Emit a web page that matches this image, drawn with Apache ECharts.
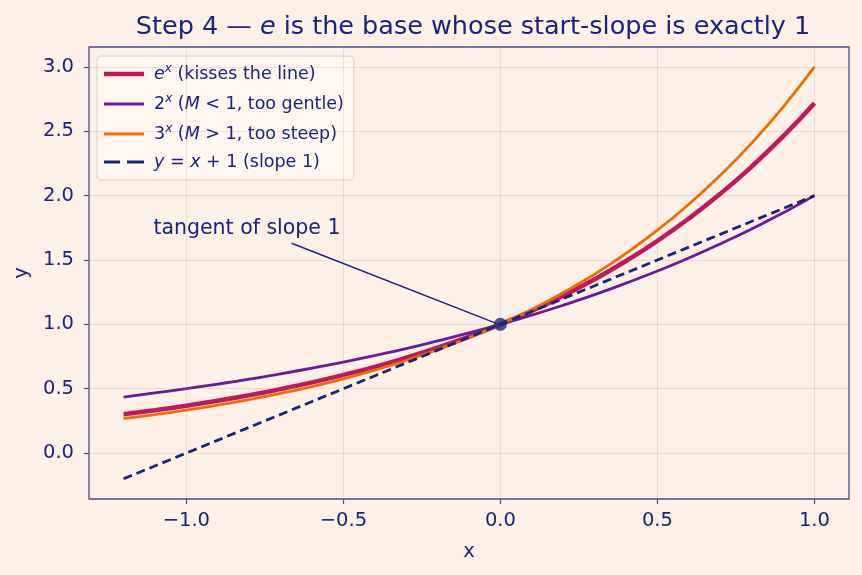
<!DOCTYPE html>
<html>
<head>
<meta charset="utf-8">
<script src="https://cdn.jsdelivr.net/npm/echarts@6/dist/echarts.min.js"></script>
<style>
  html, body { margin: 0; padding: 0; background: #fdf1e7; }
  #chart { width: 862px; height: 575px; }
</style>
</head>
<body>
<div id="chart"></div>
<script>
// x samples and curve values
const xs = [-1.2, -1.1, -1.0, -0.9, -0.8, -0.7, -0.6, -0.5, -0.4, -0.3, -0.2, -0.1,
  0, 0.1, 0.2, 0.3, 0.4, 0.5, 0.6, 0.7, 0.8, 0.9, 1.0]
const expVals = [0.301, 0.333, 0.368, 0.407, 0.449, 0.497, 0.549, 0.607, 0.670, 0.741, 0.819, 0.905,
  1.0, 1.105, 1.221, 1.350, 1.492, 1.649, 1.822, 2.014, 2.226, 2.460, 2.718]
const twoVals = [0.435, 0.467, 0.5, 0.536, 0.574, 0.616, 0.660, 0.707, 0.758, 0.812, 0.871, 0.933,
  1.0, 1.072, 1.149, 1.231, 1.320, 1.414, 1.516, 1.625, 1.741, 1.866, 2.0]
const threeVals = [0.268, 0.299, 0.333, 0.372, 0.415, 0.463, 0.517, 0.577, 0.644, 0.719, 0.803, 0.896,
  1.0, 1.116, 1.246, 1.390, 1.552, 1.732, 1.933, 2.158, 2.408, 2.688, 3.0]
const tangentX = [-1.2, 1.0]
const tangentY = [-0.2, 2.0]
const touchPoint = [0, 1]
const xTicks = [-1.0, -0.5, 0.0, 0.5, 1.0]
const yTicks = [0.0, 0.5, 1.0, 1.5, 2.0, 2.5, 3.0]

const navy = '#1a237e'
const spine = '#4b4b8f'
const gridColor = 'rgba(160,130,100,0.18)'
const font = 'DejaVu Sans'

const pairs = (a, b) => a.map((v, i) => [v, b[i]])

const chart = echarts.init(document.getElementById('chart'))

// legend labels with superscripts and italic math
const supRich = {
  t: { fontFamily: font, fontSize: 17.5, color: navy, lineHeight: 22 },
  i: { fontFamily: font, fontSize: 17.5, color: navy, fontStyle: 'italic', lineHeight: 22, padding: [0, 0, 0, 0] },
  f: { fontFamily: font, fontSize: 17.5, color: navy, fontStyle: 'italic', lineHeight: 22, padding: [0, 0, 0, 5] },
  g: { fontFamily: font, fontSize: 17.5, color: navy, lineHeight: 22, padding: [0, 0, 0, 5] },
  s: { fontFamily: font, fontSize: 12, color: navy, fontStyle: 'italic', verticalAlign: 'top', lineHeight: 22, padding: [0, 0, 9, 0] },
}
const legendText = {
  'e^x': '{f|e}{s|x}{t| (kisses the line)}',
  '2^x': '{g|2}{s|x}{t| (}{i|M}{t| < 1, too gentle)}',
  '3^x': '{g|3}{s|x}{t| (}{i|M}{t| > 1, too steep)}',
  'y=x+1': '{f|y}{t| = }{i|x}{t| + 1 (slope 1)}',
}
// line-shaped legend handles (solid bars, one dashed)
const thickBar = 'path://M0,0L40,0L40,4.5L0,4.5Z'
const thinBar = 'path://M0,0L40,0L40,3L0,3Z'
const dashBar = 'path://M0,0L16,0L16,3L0,3Z M23,0L40,0L40,3L23,3Z'

const axisLabelStyle = {
  formatter: (v) => v.toFixed(1).replace('-', '−'),
  fontFamily: font, fontSize: 19.5, color: navy,
}

const option = {
  backgroundColor: '#fdf1e7',
  animation: false,
  title: {
    text: '{t|Step 4 — }{i|e}{t| is the base whose start-slope is exactly 1}',
    left: 468,
    textAlign: 'center',
    top: 9,
    textStyle: {
      fontFamily: font, fontSize: 25.5, fontWeight: 'normal', color: navy,
      rich: {
        t: { fontFamily: font, fontSize: 25.5, color: navy },
        i: { fontFamily: font, fontSize: 25.5, color: navy, fontStyle: 'italic' },
      },
    },
  },
  grid: { left: 89, right: 13, top: 47, bottom: 76, show: true, borderColor: spine, borderWidth: 1.3 },
  legend: {
    orient: 'vertical',
    left: 97,
    top: 56,
    itemWidth: 40,
    itemHeight: 14,
    itemGap: 9,
    padding: [7, 10, 9, 7],
    backgroundColor: 'rgba(255,247,240,0.85)',
    borderColor: '#d8d0c8',
    borderWidth: 1,
    borderRadius: 4,
    formatter: (name) => legendText[name],
    textStyle: { rich: supRich, color: navy },
    data: [
      { name: 'e^x', icon: thickBar },
      { name: '2^x', icon: thinBar },
      { name: '3^x', icon: thinBar },
      { name: 'y=x+1', icon: dashBar },
    ],
  },
  xAxis: {
    type: 'value',
    min: -1.31,
    max: 1.11,
    name: 'x',
    nameLocation: 'middle',
    nameGap: 43,
    nameTextStyle: { fontFamily: font, fontSize: 19.5, color: navy },
    axisLine: { show: false, onZero: false },
    axisTick: { show: true, customValues: xTicks, length: 5, lineStyle: { color: spine, width: 1.2 } },
    axisLabel: Object.assign({ customValues: xTicks, margin: 12 }, axisLabelStyle),
    splitLine: { show: false },
  },
  yAxis: {
    type: 'value',
    min: -0.357,
    max: 3.155,
    name: 'y',
    nameLocation: 'middle',
    nameGap: 53,
    nameTextStyle: { fontFamily: font, fontSize: 19.5, color: navy },
    axisLine: { show: false, onZero: false },
    axisTick: { show: true, customValues: yTicks, length: 5, lineStyle: { color: spine, width: 1.2 } },
    axisLabel: Object.assign({ customValues: yTicks, margin: 15 }, axisLabelStyle),
    splitLine: { show: false },
  },
  series: [
    {
      // grid lines at the tick positions
      type: 'line',
      data: [],
      silent: true,
      markLine: {
        silent: true,
        symbol: 'none',
        label: { show: false },
        lineStyle: { color: gridColor, type: 'solid', width: 1 },
        data: xTicks.map((v) => ({ xAxis: v })).concat(yTicks.map((v) => ({ yAxis: v }))),
      },
    },
    {
      name: 'e^x',
      type: 'line',
      data: pairs(xs, expVals),
      smooth: true,
      symbol: 'none',
      lineStyle: { color: '#c2185b', width: 4.5 },
      itemStyle: { color: '#c2185b' },
      z: 3,
    },
    {
      name: '2^x',
      type: 'line',
      data: pairs(xs, twoVals),
      smooth: true,
      symbol: 'none',
      lineStyle: { color: '#6a1b9a', width: 2.8 },
      itemStyle: { color: '#6a1b9a' },
      z: 4,
    },
    {
      name: '3^x',
      type: 'line',
      data: pairs(xs, threeVals),
      smooth: true,
      symbol: 'none',
      lineStyle: { color: '#ef6c00', width: 2.8 },
      itemStyle: { color: '#ef6c00' },
      z: 5,
    },
    {
      name: 'y=x+1',
      type: 'line',
      data: pairs(tangentX, tangentY),
      symbol: 'none',
      lineStyle: { color: navy, width: 2.8, type: [9, 5] },
      itemStyle: { color: navy },
      z: 6,
      markLine: {
        silent: true,
        symbol: ['none', 'arrow'],
        symbolSize: [0, 10],
        label: { show: false },
        lineStyle: { color: navy, width: 1.4, type: 'solid' },
        data: [[{ coord: [-0.665, 1.63] }, { coord: [-0.015, 1.01] }]],
      },
      markPoint: {
        silent: true,
        symbol: 'circle',
        symbolSize: 0,
        label: {
          show: true,
          position: 'right',
          distance: 0,
          formatter: 'tangent of slope 1',
          fontFamily: font, fontSize: 20.5, color: navy,
        },
        data: [{ coord: [-1.105, 1.74] }],
      },
    },
    {
      type: 'scatter',
      data: [touchPoint],
      symbolSize: 13,
      itemStyle: { color: navy },
      z: 7,
    },
  ],
}

chart.setOption(option)
</script>
</body>
</html>
